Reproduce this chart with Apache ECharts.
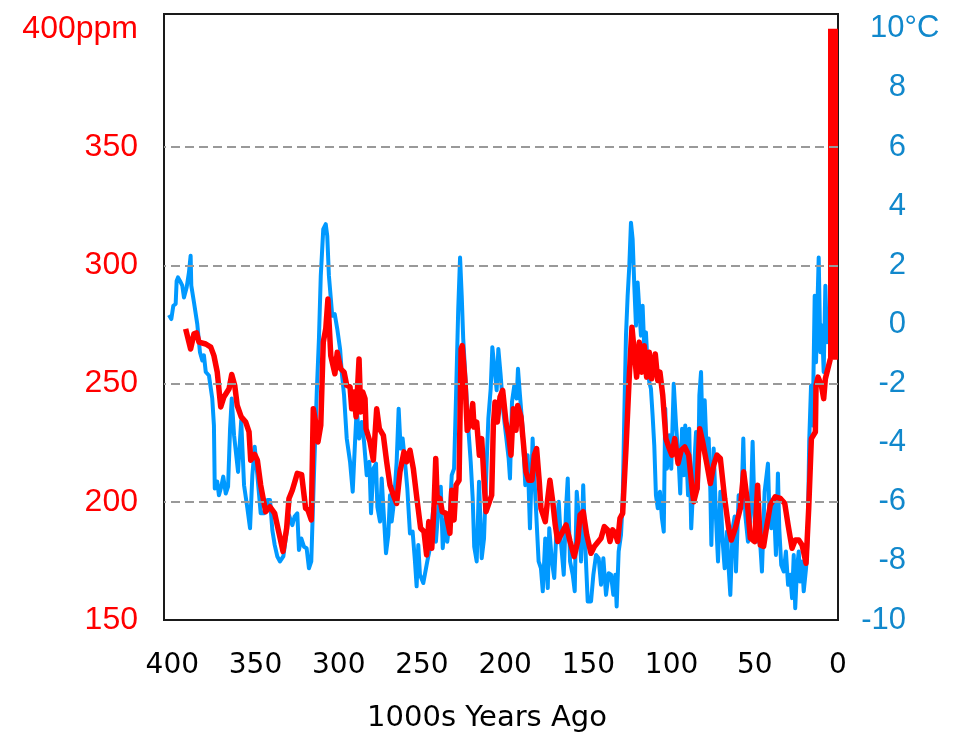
<!DOCTYPE html>
<html>
<head>
<meta charset="utf-8">
<title>CO2 and temperature, 400,000 years</title>
<script src="https://cdn.jsdelivr.net/npm/echarts@6/dist/echarts.min.js"></script>
<style>
  html, body { margin: 0; padding: 0; background: #fff; }
  #chart { width: 962px; height: 738px; }
</style>
</head>
<body>
<div id="chart"></div>
<script>
// CO2 (ppm) against thousands of years ago
const co2Years = [392.0, 389.0, 387.0, 385.4, 384.0, 379.9, 376.9, 375.0, 373.0, 370.9, 369.0, 365.9, 364.3, 362.5, 361.0, 358.6, 355.9, 353.9, 352.9, 350.5,
  348.9, 346.9, 343.9, 341.3, 338.5, 335.9, 333.5, 331.3, 329.9, 327.9, 324.9, 322.3, 319.9, 318.5, 316.5, 315.3, 313.9, 312.5, 310.8, 309.3,
  307.8, 306.5, 304.8, 302.3, 300.9, 298.8, 296.8, 295.2, 293.2, 292.2, 290.8, 289.6, 287.8, 286.8, 285.6, 284.2, 283.6, 281.2, 279.2, 277.2,
  275.6, 273.2, 271.2, 269.2, 267.2, 265.2, 263.2, 260.8, 259.2, 257.2, 255.2, 252.8, 250.8, 248.8, 247.2, 245.9, 244.1, 242.8, 241.7, 240.8,
  239.2, 237.8, 235.6, 233.2, 232.1, 230.7, 229.5, 227.7, 226.5, 225.8, 224.1, 222.8, 221.1, 219.5, 218.7, 217.1, 215.5, 214.1, 212.7, 211.5,
  209.5, 208.1, 207.1, 206.1, 204.7, 203.1, 201.5, 199.5, 197.9, 196.5, 195.1, 193.5, 192.5, 190.5, 189.1, 187.5, 185.9, 183.9, 182.5, 181.1,
  179.5, 178.5, 175.9, 174.4, 173.1, 171.4, 169.9, 168.4, 166.5, 163.4, 161.0, 158.5, 156.4, 155.0, 153.1, 151.0, 148.4, 146.4, 142.4, 140.4,
  138.4, 137.0, 135.4, 133.8, 132.4, 131.0, 129.4, 127.4, 125.4, 123.8, 122.4, 121.0, 119.4, 118.0, 116.4, 115.0, 113.4, 112.0, 109.8, 108.3,
  107.0, 105.3, 103.4, 101.4, 99.8, 98.1, 96.1, 94.2, 92.1, 89.7, 87.7, 86.7, 84.7, 83.1, 81.3, 78.7, 76.7, 74.7, 72.7, 70.7,
  68.1, 65.7, 64.1, 61.7, 58.7, 56.7, 54.7, 52.7, 50.1, 48.3, 46.7, 44.7, 42.7, 40.7, 37.7, 34.7, 32.0, 30.0, 27.6, 25.7,
  23.6, 21.6, 19.2, 17.6, 16.0, 13.6, 13.2, 12.0, 10.0, 8.6, 7.6, 5.6, 4.6];
const co2Ppm = [273.1, 264.6, 271.0, 271.4, 267.5, 266.7, 265.4, 261.8, 254.8, 240.1, 244.3, 247.8, 253.8, 249.2, 240.7, 235.9, 233.7, 229.5, 217.6, 220.0,
  217.6, 207.0, 195.8, 197.9, 195.1, 186.7, 179.0, 188.8, 201.4, 204.9, 212.0, 211.5, 197.2, 196.5, 192.3, 239.3, 233.7, 225.3, 232.3, 267.5,
  273.1, 285.7, 261.8, 254.1, 263.2, 256.2, 254.8, 249.2, 248.5, 239.3, 246.4, 235.9, 260.4, 238.0, 246.4, 243.6, 230.9, 225.3, 217.6, 239.3,
  230.9, 228.1, 216.9, 207.0, 202.8, 199.3, 212.7, 221.1, 216.9, 221.8, 214.1, 200.0, 188.8, 187.4, 177.5, 191.6, 180.3, 197.2, 218.3, 200.0,
  201.4, 195.8, 195.1, 186.7, 204.9, 192.3, 207.0, 209.1, 264.6, 266.0, 250.6, 230.2, 233.0, 241.5, 231.6, 233.7, 219.7, 226.7, 209.1, 195.8,
  200.0, 202.8, 232.3, 242.2, 233.7, 244.3, 247.1, 233.7, 228.1, 219.7, 239.3, 230.2, 240.7, 235.9, 225.3, 212.7, 209.1, 209.1, 219.7, 222.5,
  208.5, 197.2, 191.6, 201.4, 209.1, 200.0, 190.2, 183.2, 186.0, 190.2, 183.2, 176.8, 183.2, 194.4, 195.8, 186.0, 178.2, 181.1, 184.6, 189.5,
  188.1, 183.2, 188.1, 186.7, 183.2, 193.0, 195.1, 222.5, 253.4, 273.8, 263.2, 252.7, 267.5, 254.8, 266.0, 252.7, 263.2, 252.0, 262.5, 251.3,
  254.8, 245.0, 226.7, 222.5, 219.7, 226.7, 216.2, 221.8, 223.2, 219.7, 205.6, 200.0, 205.6, 230.9, 225.3, 215.5, 207.7, 215.5, 219.7, 218.3,
  201.4, 188.8, 183.8, 188.8, 197.2, 212.7, 201.4, 184.6, 183.2, 207.0, 181.7, 181.1, 190.2, 198.6, 202.1, 201.4, 199.3, 190.2, 180.3, 183.8,
  183.8, 181.7, 174.0, 197.2, 226.7, 229.5, 249.2, 252.7, 249.2, 243.6, 252.0, 257.6, 260.4];

// modern CO2 rise
const modernYears = [3, 3];
const modernPpm = [260, 400];

// temperature change (°C) against thousands of years ago
const tempYears = [402.0, 400.6, 399.4, 398.0, 397.4, 396.6, 395.4, 394.0, 393.0, 391.4, 390.0, 389.0, 388.6, 387.0, 385.0, 383.4, 382.0, 381.0, 379.9, 378.0,
  376.0, 375.0, 374.5, 373.0, 372.0, 370.6, 369.4, 367.9, 366.5, 365.3, 364.3, 362.9, 360.5, 358.6, 356.9, 354.9, 353.3, 351.9, 350.5, 348.9,
  346.9, 344.9, 342.9, 341.3, 339.9, 338.5, 336.9, 335.3, 333.3, 331.3, 329.9, 327.9, 326.5, 324.9, 323.9, 322.5, 320.9, 319.3, 317.9, 316.5,
  314.9, 313.2, 311.9, 310.8, 309.3, 307.8, 306.9, 305.9, 303.9, 302.4, 300.9, 299.2, 298.2, 296.8, 295.2, 293.2, 291.6, 290.2, 289.2, 287.7,
  286.2, 284.8, 283.2, 281.6, 280.6, 279.2, 277.6, 276.8, 275.2, 274.2, 272.8, 271.6, 270.2, 269.2, 268.2, 266.8, 265.2, 264.0, 262.8, 261.6,
  260.2, 258.8, 257.2, 255.6, 254.2, 253.2, 252.2, 251.2, 249.2, 246.8, 245.2, 243.2, 241.6, 240.2, 238.7, 237.5, 236.2, 234.8, 233.6, 232.1,
  230.7, 229.5, 228.2, 227.1, 226.1, 225.2, 223.7, 222.2, 220.7, 219.5, 218.6, 217.1, 215.7, 214.1, 212.7, 211.1, 210.1, 208.7, 207.7, 206.5,
  205.1, 204.1, 202.7, 201.1, 199.5, 197.9, 197.1, 195.9, 194.5, 193.1, 192.3, 191.1, 189.5, 187.9, 186.5, 185.1, 183.5, 182.5, 181.5, 179.9,
  178.5, 177.4, 175.9, 174.4, 173.5, 171.9, 170.5, 169.5, 167.8, 166.5, 164.8, 163.4, 162.4, 161.0, 159.4, 158.2, 157.0, 155.8, 154.4, 153.1,
  151.8, 150.4, 148.4, 147.0, 145.4, 143.8, 142.4, 141.0, 139.4, 137.8, 136.4, 135.0, 133.8, 133.0, 131.8, 130.4, 129.4, 128.4, 127.4, 126.4,
  125.4, 124.4, 123.4, 122.4, 121.4, 120.4, 119.4, 118.4, 117.4, 116.4, 115.4, 114.4, 113.4, 112.4, 111.4, 110.4, 109.4, 108.3, 107.0, 105.8,
  104.7, 103.8, 102.8, 101.4, 100.2, 98.7, 97.3, 95.7, 94.8, 93.7, 92.7, 91.8, 90.1, 89.4, 88.2, 86.7, 85.3, 84.1, 83.3, 82.3,
  81.3, 80.1, 78.7, 77.7, 76.7, 76.1, 74.7, 73.3, 72.1, 70.7, 69.3, 68.1, 66.7, 65.7, 64.7, 63.3, 62.1, 61.3, 59.7, 58.1,
  56.9, 55.7, 54.1, 52.7, 51.3, 50.1, 48.7, 47.3, 45.7, 44.1, 42.1, 41.3, 40.1, 38.6, 37.3, 36.1, 35.3, 34.1, 32.6, 31.3,
  30.0, 28.7, 27.6, 26.6, 25.7, 24.6, 23.6, 22.7, 21.6, 20.6, 19.2, 18.2, 17.3, 16.2, 15.2, 14.0, 13.2, 12.2, 11.6, 10.6,
  9.6, 8.6, 7.6, 6.6, 5.6];
const tempC = [0.32, 0.18, 0.63, 0.69, 1.47, 1.59, 1.47, 1.31, 0.91, 1.25, 1.76, 2.32, 1.31, 0.75, 0.01, -0.94, -1.22, -1.05, -1.61, -1.73,
  -2.51, -3.42, -5.55, -5.32, -5.78, -5.49, -5.15, -5.72, -5.49, -3.53, -2.51, -3.75, -4.99, -3.25, -5.44, -6.22, -6.90, -5.10, -4.14, -5.10,
  -6.39, -6.39, -5.94, -5.94, -6.96, -7.46, -7.85, -8.02, -7.85, -7.01, -6.45, -6.79, -6.50, -6.39, -7.63, -7.24, -7.52, -7.57, -8.25, -8.02,
  -5.10, -2.29, -0.49, 1.64, 3.22, 3.39, 2.99, 1.64, 0.29, 0.35, -0.15, -0.83, -1.61, -2.40, -3.86, -4.65, -5.66, -3.97, -2.85, -3.86,
  -3.30, -3.97, -5.10, -4.65, -6.39, -4.88, -4.71, -6.17, -6.67, -5.21, -6.56, -7.74, -7.12, -5.78, -6.67, -6.00, -4.65, -2.85, -4.20, -3.86,
  -4.65, -5.55, -7.07, -7.01, -8.02, -8.86, -7.46, -8.47, -8.75, -8.02, -7.57, -6.22, -7.35, -6.28, -5.49, -7.57, -6.62, -7.35, -6.79, -5.10,
  -4.88, -2.40, 0.52, 2.26, 0.97, -0.49, -1.95, -3.47, -4.65, -5.89, -7.52, -8.02, -5.32, -7.91, -7.24, -4.65, -3.19, -2.18, -0.77, -0.83,
  -2.23, -0.83, -1.73, -2.96, -3.75, -4.54, -5.21, -2.63, -2.07, -2.51, -1.50, -2.40, -3.53, -5.44, -4.43, -6.90, -3.86, -5.10, -6.22, -8.02,
  -8.25, -9.03, -7.24, -8.92, -6.90, -8.02, -8.58, -7.35, -6.00, -7.35, -8.47, -6.22, -5.21, -8.02, -8.47, -9.03, -5.66, -6.45, -8.02, -5.44,
  -7.57, -9.37, -9.37, -8.47, -7.80, -7.91, -8.81, -7.91, -9.15, -8.42, -8.47, -9.15, -8.47, -9.54, -7.68, -7.12, -6.00, -3.08, -0.38, 0.97,
  1.98, 3.44, 2.88, 1.31, -0.04, 1.42, 0.52, -0.38, 0.63, -0.83, -0.27, -1.39, -1.95, -2.18, -3.08, -4.09, -5.78, -6.22, -5.66, -6.56,
  -7.01, -2.85, -4.88, -3.75, -4.88, -2.01, -3.42, -4.65, -5.72, -3.53, -5.10, -3.42, -5.78, -3.53, -6.90, -5.10, -3.64, -5.55, -2.40, -1.61,
  -3.97, -2.57, -4.65, -3.86, -5.66, -7.46, -4.20, -6.56, -8.02, -5.66, -7.35, -8.25, -7.01, -8.25, -9.15, -6.90, -6.50, -8.36, -5.78, -6.22,
  -3.86, -6.45, -7.35, -6.67, -3.97, -6.45, -7.35, -6.90, -8.36, -5.66, -4.71, -6.22, -6.90, -6.00, -7.80, -5.04, -6.90, -8.14, -8.36, -7.68,
  -8.81, -8.47, -9.26, -7.80, -9.60, -8.25, -7.68, -8.70, -8.02, -9.03, -8.25, -7.24, -3.97, -2.07, -3.42, 0.97, -1.28, 0.97, 2.26, -0.94,
  -0.04, -1.61, 1.31, -0.60, -0.27];

// dashed reference lines (ppm)
const gridPpm = [200, 250, 300, 350];

const zip = (xs, ys) => xs.map((x, i) => [x, ys[i]]);

const WIDE_FONT = 'DejaVu Sans';
const AXIS_FONT = 'Liberation Sans';
const RED = '#ff0000';
const BLUE = '#0099ff';
const BLUE_TEXT = '#1188cc';

const chart = echarts.init(document.getElementById('chart'), null, { renderer: 'canvas' });

chart.setOption({
  animation: false,
  backgroundColor: '#fff',
  grid: {
    left: 164, top: 14, width: 674, height: 608,
    show: true, borderColor: '#1a1a1a', borderWidth: 2, backgroundColor: 'transparent'
  },
  xAxis: {
    type: 'value', inverse: true, min: 0, max: 405, interval: 50,
    name: '1000s Years Ago', nameLocation: 'middle', nameGap: 84,
    nameTextStyle: { fontFamily: WIDE_FONT, fontSize: 29, color: '#000', padding: [0, 28, 0, 0] },
    axisLine: { show: false }, axisTick: { show: false }, splitLine: { show: false },
    axisLabel: { showMaxLabel: false, margin: 32, fontFamily: WIDE_FONT, fontSize: 28, color: '#000' }
  },
  yAxis: [
    {
      type: 'value', position: 'left', min: 150, max: 406.25, interval: 50,
      axisLine: { show: false }, axisTick: { show: false }, splitLine: { show: false },
      axisLabel: {
        showMaxLabel: false, margin: 26, fontFamily: AXIS_FONT, fontSize: 32, color: RED,
        formatter: (v) => v === 400 ? '400ppm' : String(v)
      }
    },
    {
      type: 'value', position: 'right', min: -10, max: 10.5, interval: 2,
      axisLine: { show: false }, axisTick: { show: false }, splitLine: { show: false },
      axisLabel: {
        showMaxLabel: false, margin: 22, align: 'left', fontFamily: AXIS_FONT, fontSize: 31, color: BLUE_TEXT,
        // numbers right-aligned in a fixed box; the 10 label carries the unit
        formatter: (v) => v === 10 ? '{m|10°C}' : '{n|' + v + '}',
        rich: {
          n: { width: 46, align: 'right', fontFamily: AXIS_FONT, fontSize: 31, color: BLUE_TEXT },
          m: { padding: [0, 0, 0, 10], fontFamily: AXIS_FONT, fontSize: 31, color: BLUE_TEXT }
        }
      }
    }
  ],
  series: [
    {
      name: 'grid', type: 'line', yAxisIndex: 0, data: [], z: 1,
      markLine: {
        silent: true, symbol: 'none', label: { show: false },
        lineStyle: { color: '#999', type: [9, 5], width: 2 },
        data: gridPpm.map((v) => ({ yAxis: v }))
      }
    },
    {
      name: 'Temperature', type: 'line', yAxisIndex: 1, z: 2,
      data: zip(tempYears, tempC), showSymbol: false,
      lineStyle: { color: BLUE, width: 4, join: 'round' }
    },
    {
      name: 'CO2', type: 'line', yAxisIndex: 0, z: 3,
      data: zip(co2Years, co2Ppm), showSymbol: false,
      lineStyle: { color: RED, width: 5.5, join: 'round' }
    },
    {
      name: 'Modern CO2', type: 'line', yAxisIndex: 0, z: 4,
      data: zip(modernYears, modernPpm), showSymbol: false,
      lineStyle: { color: RED, width: 10, cap: 'butt' }
    }
  ]
});
</script>
</body>
</html>
